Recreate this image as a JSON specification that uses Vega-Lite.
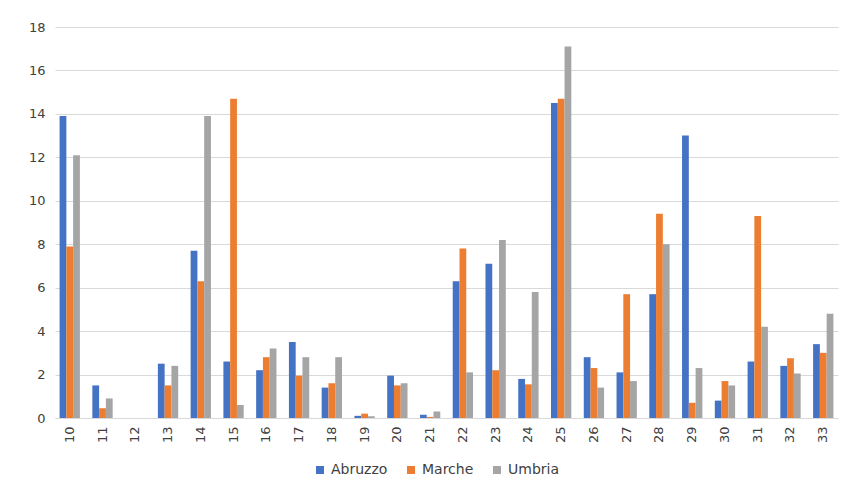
{
  "$schema": "https://vega.github.io/schema/vega-lite/v6.json",
  "autosize": {"type": "none"},
  "padding": {"left": 55, "top": 27, "right": 5, "bottom": 67},
  "width": 783,
  "height": 391,
  "background": "white",
  "config": {
    "font": "DejaVu Sans",
    "view": {"stroke": null},
    "axis": {"labelFont": "DejaVu Sans", "labelColor": "#404040", "labelFontSize": 13}
  },
  "data": {
    "values": [
      {"c": "10", "s": "Abruzzo", "v": 13.9}, {"c": "10", "s": "Marche", "v": 7.9}, {"c": "10", "s": "Umbria", "v": 12.1},
      {"c": "11", "s": "Abruzzo", "v": 1.5}, {"c": "11", "s": "Marche", "v": 0.45}, {"c": "11", "s": "Umbria", "v": 0.9},
      {"c": "12", "s": "Abruzzo", "v": 0}, {"c": "12", "s": "Marche", "v": 0}, {"c": "12", "s": "Umbria", "v": 0},
      {"c": "13", "s": "Abruzzo", "v": 2.5}, {"c": "13", "s": "Marche", "v": 1.5}, {"c": "13", "s": "Umbria", "v": 2.4},
      {"c": "14", "s": "Abruzzo", "v": 7.7}, {"c": "14", "s": "Marche", "v": 6.3}, {"c": "14", "s": "Umbria", "v": 13.9},
      {"c": "15", "s": "Abruzzo", "v": 2.6}, {"c": "15", "s": "Marche", "v": 14.7}, {"c": "15", "s": "Umbria", "v": 0.6},
      {"c": "16", "s": "Abruzzo", "v": 2.2}, {"c": "16", "s": "Marche", "v": 2.8}, {"c": "16", "s": "Umbria", "v": 3.2},
      {"c": "17", "s": "Abruzzo", "v": 3.5}, {"c": "17", "s": "Marche", "v": 1.95}, {"c": "17", "s": "Umbria", "v": 2.8},
      {"c": "18", "s": "Abruzzo", "v": 1.4}, {"c": "18", "s": "Marche", "v": 1.6}, {"c": "18", "s": "Umbria", "v": 2.8},
      {"c": "19", "s": "Abruzzo", "v": 0.1}, {"c": "19", "s": "Marche", "v": 0.2}, {"c": "19", "s": "Umbria", "v": 0.08},
      {"c": "20", "s": "Abruzzo", "v": 1.95}, {"c": "20", "s": "Marche", "v": 1.5}, {"c": "20", "s": "Umbria", "v": 1.6},
      {"c": "21", "s": "Abruzzo", "v": 0.15}, {"c": "21", "s": "Marche", "v": 0.05}, {"c": "21", "s": "Umbria", "v": 0.3},
      {"c": "22", "s": "Abruzzo", "v": 6.3}, {"c": "22", "s": "Marche", "v": 7.8}, {"c": "22", "s": "Umbria", "v": 2.1},
      {"c": "23", "s": "Abruzzo", "v": 7.1}, {"c": "23", "s": "Marche", "v": 2.2}, {"c": "23", "s": "Umbria", "v": 8.2},
      {"c": "24", "s": "Abruzzo", "v": 1.8}, {"c": "24", "s": "Marche", "v": 1.55}, {"c": "24", "s": "Umbria", "v": 5.8},
      {"c": "25", "s": "Abruzzo", "v": 14.5}, {"c": "25", "s": "Marche", "v": 14.7}, {"c": "25", "s": "Umbria", "v": 17.1},
      {"c": "26", "s": "Abruzzo", "v": 2.8}, {"c": "26", "s": "Marche", "v": 2.3}, {"c": "26", "s": "Umbria", "v": 1.4},
      {"c": "27", "s": "Abruzzo", "v": 2.1}, {"c": "27", "s": "Marche", "v": 5.7}, {"c": "27", "s": "Umbria", "v": 1.7},
      {"c": "28", "s": "Abruzzo", "v": 5.7}, {"c": "28", "s": "Marche", "v": 9.4}, {"c": "28", "s": "Umbria", "v": 8.0},
      {"c": "29", "s": "Abruzzo", "v": 13.0}, {"c": "29", "s": "Marche", "v": 0.7}, {"c": "29", "s": "Umbria", "v": 2.3},
      {"c": "30", "s": "Abruzzo", "v": 0.8}, {"c": "30", "s": "Marche", "v": 1.7}, {"c": "30", "s": "Umbria", "v": 1.5},
      {"c": "31", "s": "Abruzzo", "v": 2.6}, {"c": "31", "s": "Marche", "v": 9.3}, {"c": "31", "s": "Umbria", "v": 4.2},
      {"c": "32", "s": "Abruzzo", "v": 2.4}, {"c": "32", "s": "Marche", "v": 2.75}, {"c": "32", "s": "Umbria", "v": 2.05},
      {"c": "33", "s": "Abruzzo", "v": 3.4}, {"c": "33", "s": "Marche", "v": 3.0}, {"c": "33", "s": "Umbria", "v": 4.8}
    ]
  },
  "mark": {"type": "bar"},
  "encoding": {
    "x": {
      "field": "c", "type": "nominal", "sort": null,
      "scale": {"paddingInner": 0.38, "paddingOuter": 0.14},
      "axis": {"title": null, "labelAngle": -90, "labelAlign": "right", "labelBaseline": "middle", "ticks": false, "domainColor": "#d9d9d9", "labelPadding": 8}
    },
    "xOffset": {"field": "s", "type": "nominal", "sort": ["Abruzzo", "Marche", "Umbria"]},
    "y": {
      "field": "v", "type": "quantitative",
      "scale": {"domain": [0, 18], "nice": false},
      "axis": {"title": null, "values": [0, 2, 4, 6, 8, 10, 12, 14, 16, 18], "domain": false, "ticks": false, "gridColor": "#d9d9d9", "labelPadding": 10}
    },
    "color": {
      "field": "s", "type": "nominal",
      "scale": {"domain": ["Abruzzo", "Marche", "Umbria"], "range": ["#4472C4", "#ED7D31", "#A5A5A5"]},
      "legend": {"title": null, "orient": "none", "direction": "horizontal", "legendX": 258, "legendY": 436, "symbolType": "square", "symbolSize": 64, "labelFontSize": 14, "labelColor": "#404040", "labelFont": "DejaVu Sans", "labelOffset": 4, "columnPadding": 16, "symbolOffset": 0}
    }
  }
}
